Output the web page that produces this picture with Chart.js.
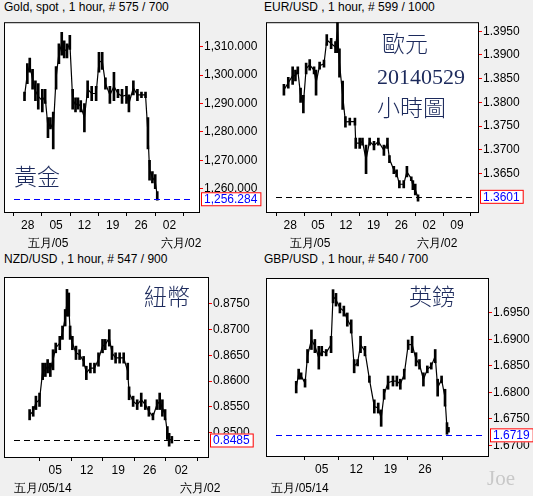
<!DOCTYPE html>
<html>
<head>
<meta charset="utf-8">
<script src="https://cdn.jsdelivr.net/npm/chart.js@4.4.1/dist/chart.umd.min.js"></script>
<style>
body { margin:0; background:#f0f0f0; width:533px; height:496px; position:relative; overflow:hidden; font-family:"Liberation Sans", Arial, sans-serif; }
canvas { position:absolute; }
.t { position:absolute; font-size:12px; color:#000; white-space:nowrap; }
.d { position:absolute; font-size:12px; color:#000; transform:translateX(-50%); white-space:nowrap; }
.big { position:absolute; font-family:"Noto Sans CJK TC", serif; font-weight:300; font-size:23px; color:#1c2a5c; line-height:1; white-space:nowrap; }
.joe { position:absolute; left:487px; top:466px; font-family:"Liberation Serif", serif; font-size:21px; color:#c8c8c8; }
</style>
</head>
<body>
<div class="t" style="left:4px;top:0px">Gold, spot , 1 hour, # 575 / 700</div>
<div class="t" style="left:264px;top:0px">EUR/USD , 1 hour, # 599 / 1000</div>
<div class="t" style="left:4px;top:252px">NZD/USD , 1 hour, # 547 / 900</div>
<div class="t" style="left:264px;top:252px">GBP/USD , 1 hour, # 540 / 700</div>
<canvas id="gold" style="left:0;top:14px" width="266" height="236"></canvas>
<canvas id="eur" style="left:266px;top:14px" width="267" height="236"></canvas>
<canvas id="nzd" style="left:0;top:264px" width="266" height="232"></canvas>
<canvas id="gbp" style="left:266px;top:264px" width="267" height="232"></canvas>
<div class="d" style="left:48px;top:235px">五月/05</div>
<div class="d" style="left:181px;top:235px">六月/02</div>
<div class="d" style="left:310px;top:235px">五月/05</div>
<div class="d" style="left:437px;top:235px">六月/02</div>
<div class="d" style="left:43px;top:480px">五月/05/14</div>
<div class="d" style="left:200px;top:480px">六月/02</div>
<div class="d" style="left:300px;top:480px">五月/05/14</div>
<div class="big" style="left:14px;top:164px">黃金</div>
<div class="big" style="left:382px;top:31px">歐元</div>
<div class="big" style="left:377px;top:66px;font-family:'Liberation Serif',serif;font-weight:400;font-size:22px">20140529</div>
<div class="big" style="left:377px;top:95px">小時圖</div>
<div class="big" style="left:144px;top:284px">紐幣</div>
<div class="big" style="left:409px;top:284px">英鎊</div>
<div class="joe">Joe</div>
<script>
// days counted from 28 Apr
const goldDay  = [-0.8,-0.1,0.5,1.2,1.9,2.6,3.6,4.3,5.0,5.6,6.3,7.0,7.7,8.4,9.0,9.7,10.4,11.1,11.8,12.4,13.1,14.0,14.8,15.8,16.9,17.6,18.4,19.2,20.3,21.3,22.3,23.3,24.4,25.0,26.1,27.1,28.1,29.1,29.7,30.1,30.8,31.5,32.0];
const goldLow  = [1291,1297,1301,1295,1291,1288,1287,1290,1278,1281,1274,1295,1304,1307,1306,1306,1309,1288,1287,1288,1287,1280,1292,1291,1291,1301,1302,1295,1290,1291,1292,1290,1290,1287,1293,1291,1292,1292,1274,1263,1262,1260,1256];
const goldHigh = [1294,1304,1306,1302,1298,1297,1295,1295,1285,1285,1287,1303,1311,1315,1312,1311,1314,1295,1292,1292,1291,1290,1298,1296,1296,1308,1308,1299,1296,1301,1295,1295,1296,1293,1298,1295,1294,1294,1285,1270,1266,1265,1259];
const goldLast = 1256.284;

const eurDay  = [-1.6,-0.5,0.6,1.3,1.9,2.6,3.3,4.0,4.9,6.0,6.5,7.4,8.5,9.2,10.3,11.4,11.9,12.4,13.2,13.9,15.0,16.3,16.5,17.5,18.2,19.1,20.0,21.1,22.2,23.6,24.5,25.0,26.1,26.8,27.5,28.6,29.4,30.5,30.9,31.5,32.2];
const eurLow  = [1.3815,1.3830,1.3838,1.3845,1.3860,1.3800,1.3778,1.3860,1.3868,1.3860,1.3815,1.3870,1.3874,1.3920,1.3913,1.3905,1.3905,1.3853,1.3785,1.3748,1.3752,1.3752,1.3703,1.3703,1.3710,1.3650,1.3710,1.3700,1.3710,1.3688,1.3703,1.3673,1.3650,1.3643,1.3620,1.3620,1.3643,1.3635,1.3616,1.3605,1.3592];
const eurHigh = [1.3838,1.3853,1.3875,1.3868,1.3875,1.3830,1.3815,1.3883,1.3890,1.3875,1.3868,1.3885,1.3889,1.3943,1.3935,1.3928,1.3995,1.3913,1.3845,1.3770,1.3767,1.3767,1.3725,1.3725,1.3725,1.3710,1.3725,1.3718,1.3725,1.3710,1.3725,1.3688,1.3665,1.3658,1.3635,1.3635,1.3665,1.3643,1.3635,1.3628,1.3605];
const eurLast = 1.3601;

const nzdDay  = [1.3,2.1,2.7,3.5,4.2,4.8,5.3,5.9,6.5,7.1,8.0,8.6,9.2,9.6,10.0,10.3,10.8,11.6,12.4,13.3,13.9,14.8,15.7,16.6,17.5,18.1,19.0,19.6,20.4,21.3,22.2,23.1,23.4,24.3,25.2,26.1,27.0,27.8,28.7,29.6,30.2,30.8,31.4,31.9,32.3,32.9];
const nzdLow  = [0.8525,0.8532,0.8545,0.8551,0.8603,0.8609,0.8616,0.8609,0.8622,0.8655,0.8661,0.8681,0.8707,0.8726,0.8726,0.8681,0.8661,0.8642,0.8642,0.8629,0.8603,0.8616,0.8616,0.8629,0.8655,0.8661,0.8668,0.8642,0.8635,0.8635,0.8635,0.8603,0.8564,0.8551,0.8545,0.8551,0.8545,0.8532,0.8525,0.8545,0.8545,0.8532,0.8525,0.8487,0.8474,0.8480];
const nzdHigh = [0.8545,0.8551,0.8571,0.8577,0.8635,0.8635,0.8642,0.8635,0.8661,0.8674,0.8687,0.8707,0.8739,0.8778,0.8771,0.8707,0.8687,0.8668,0.8661,0.8648,0.8629,0.8635,0.8635,0.8655,0.8681,0.8681,0.8700,0.8668,0.8655,0.8655,0.8655,0.8635,0.8589,0.8571,0.8564,0.8577,0.8564,0.8551,0.8538,0.8564,0.8577,0.8564,0.8545,0.8512,0.8499,0.8493];
const nzdLast = 0.8485;

const gbpDay  = [1.8,2.3,2.8,3.6,4.1,4.9,5.6,6.4,7.0,7.9,8.9,9.3,9.9,10.7,11.5,12.2,13.0,13.6,14.3,14.9,15.8,16.7,17.7,18.5,19.1,19.7,20.5,21.5,22.3,23.0,23.8,24.6,25.4,26.2,26.9,27.7,28.5,29.3,30.1,30.6,31.4,32.1,32.5,32.8];
const gbpLow  = [1.6799,1.6825,1.6825,1.6810,1.6856,1.6881,1.6875,1.6844,1.6869,1.6869,1.6875,1.6969,1.6963,1.6950,1.6944,1.6925,1.6912,1.6837,1.6850,1.6875,1.6869,1.6819,1.6761,1.6761,1.6736,1.6787,1.6806,1.6812,1.6812,1.6806,1.6825,1.6881,1.6875,1.6850,1.6844,1.6812,1.6837,1.6844,1.6856,1.6793,1.6818,1.6774,1.6721,1.6725];
const gbpHigh = [1.6821,1.6844,1.6837,1.6825,1.6881,1.6918,1.6900,1.6887,1.6887,1.6881,1.6906,1.6994,1.6987,1.6969,1.6963,1.6950,1.6937,1.6862,1.6862,1.6906,1.6887,1.6831,1.6786,1.6780,1.6767,1.6806,1.6831,1.6831,1.6831,1.6825,1.6844,1.6899,1.6906,1.6875,1.6862,1.6837,1.6850,1.6856,1.6881,1.6825,1.6831,1.6806,1.6743,1.6734];
const gbpLast = 1.6719;

const dayLabels = {0:'28',7:'05',14:'12',21:'19',28:'26',35:'02',42:'09'};
const lastInfo = {};

const boxPlugin = {
  id: 'box',
  beforeDraw(chart) {
    const a = chart.chartArea, c = chart.ctx;
    c.save(); c.fillStyle = '#fff'; c.fillRect(a.left, a.top, a.right - a.left, a.bottom - a.top); c.restore();
  },
  afterDraw(chart) {
    const o = lastInfo[chart.canvas.id];
    const a = chart.chartArea, c = chart.ctx, y = chart.scales.y.getPixelForValue(o.last);
    c.save();
    c.strokeStyle = '#000'; c.lineWidth = 1;
    c.strokeRect(a.left + 0.5, a.top + 0.5, a.right - a.left, a.bottom - a.top);
    c.strokeStyle = o.dash; c.setLineDash([6, 4]);
    c.beginPath(); c.moveTo(a.left + 10, Math.round(y) + 0.5); c.lineTo(a.right - 6, Math.round(y) + 0.5); c.stroke();
    c.setLineDash([]);
    c.font = '12px "Liberation Sans", Arial';
    const txt = o.fmt(o.last), w = c.measureText(txt).width + 6;
    c.fillStyle = '#fff'; c.fillRect(a.right + 2, y - 7, w, 14);
    c.strokeStyle = '#f00'; c.strokeRect(a.right + 2.5, y - 6.5, w, 13);
    c.fillStyle = '#00f'; c.textBaseline = 'middle'; c.fillText(txt, a.right + 5, y + 0.5);
    c.restore();
  }
};

function panel(id, p) {
  lastInfo[id] = { last: p.last, dash: p.dash, fmt: p.fmt };
  const data = p.day.map((d, i) => ({ x: d, y: [p.low[i], p.high[i]] }));
  const mid = p.day.map((d, i) => ({ x: d, y: (p.low[i] + p.high[i]) / 2 }));
  new Chart(document.getElementById(id), {
    type: 'bar',
    data: { datasets: [
      { type: 'line', data: mid, borderColor: '#000', borderWidth: 1.2, pointRadius: 0, tension: 0 },
      { data: data, backgroundColor: '#000', barThickness: 2 }
    ] },
    options: {
      responsive: false, animation: false,
      layout: { padding: p.pad },
      plugins: { legend: { display: false }, tooltip: { enabled: false } },
      scales: {
        x: { type: 'linear', min: p.xmin, max: p.xmax,
          afterBuildTicks: s => { s.ticks = p.xt.map(v => ({ value: v })); },
          afterFit: s => { s.height = p.xh; },
          grid: { drawOnChartArea: false, color: '#000', tickLength: 4 },
          border: { display: false },
          ticks: { color: '#000', font: { size: 12, family: 'Liberation Sans' }, padding: 2, maxRotation: 0,
            callback: v => dayLabels[v] } },
        y: { position: 'right', min: p.ymin, max: p.ymax,
          afterBuildTicks: s => { s.ticks = p.yt.map(v => ({ value: v })); },
          afterFit: s => { s.width = p.yw; },
          grid: { drawOnChartArea: false, color: '#f00', tickLength: 4 },
          border: { display: false },
          ticks: { color: '#000', font: { size: 12, family: 'Liberation Sans' }, padding: 1,
            callback: v => p.fmt(v) } }
      }
    },
    plugins: [boxPlugin]
  });
}

const fmt3 = v => v.toLocaleString('en-US', { minimumFractionDigits: 3, maximumFractionDigits: 3 });
const fmt4 = v => v.toFixed(4);

panel('gold', { day: goldDay, low: goldLow, high: goldHigh, last: goldLast, dash: '#0000ff', fmt: fmt3,
  pad: { left: 4, top: 3 }, xh: 38, yw: 67, xmin: -1.85, xmax: 38.3, ymin: 1251.8, ymax: 1318.6,
  xt: [0, 7, 14, 21, 28, 35], yt: [1260, 1270, 1280, 1290, 1300, 1310] });
panel('eur', { day: eurDay, low: eurLow, high: eurHigh, last: eurLast, dash: '#000000', fmt: fmt4,
  pad: { left: 0, top: 3 }, xh: 38, yw: 55, xmin: -2.3, xmax: 43.5, ymin: 1.3569, ymax: 1.3969,
  xt: [0, 7, 14, 21, 28, 35, 42], yt: [1.365, 1.37, 1.375, 1.38, 1.385, 1.39, 1.395] });
panel('nzd', { day: nzdDay, low: nzdLow, high: nzdHigh, last: nzdLast, dash: '#000000', fmt: fmt4,
  pad: { left: 4, top: 13 }, xh: 39, yw: 58, xmin: 0.14, xmax: 36.4, ymin: 0.8453, ymax: 0.8802,
  xt: [7, 14, 21, 28, 35], yt: [0.85, 0.855, 0.86, 0.865, 0.87, 0.875] });
panel('gbp', { day: gbpDay, low: gbpLow, high: gbpHigh, last: gbpLast, dash: '#0000ff', fmt: fmt4,
  pad: { left: 0, top: 14 }, xh: 40, yw: 45, xmin: 1.3, xmax: 35.2, ymin: 1.668, ymax: 1.7016,
  xt: [7, 14, 21, 28], yt: [1.67, 1.675, 1.68, 1.685, 1.69, 1.695] });
</script>
</body>
</html>
